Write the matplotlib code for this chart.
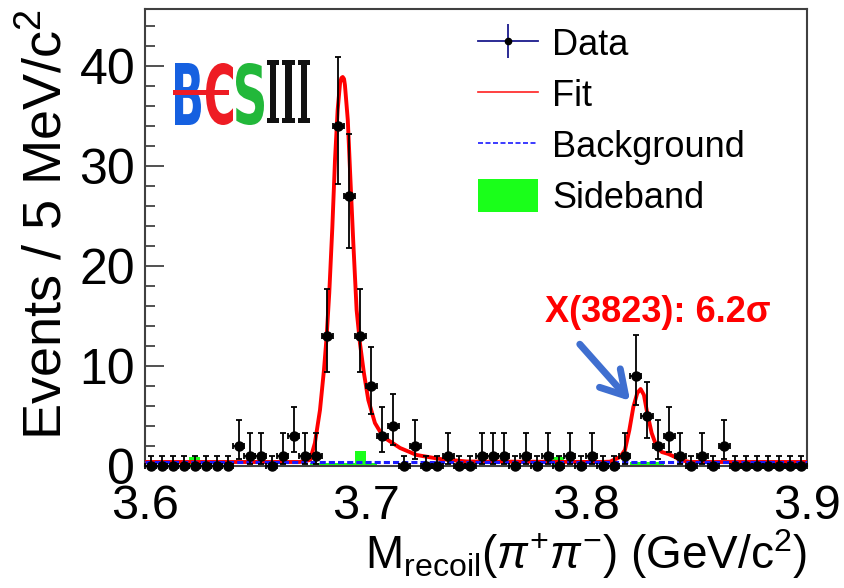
import numpy as np
import matplotlib
matplotlib.use("Agg")
import matplotlib.pyplot as plt
from matplotlib.lines import Line2D
from matplotlib.patches import Patch, PathPatch, Rectangle
from matplotlib.textpath import TextPath
from matplotlib.font_manager import FontProperties
from matplotlib.transforms import Affine2D

plt.rcParams['font.family'] = ['Liberation Sans', 'DejaVu Sans']
plt.rcParams['mathtext.fontset'] = 'custom'
plt.rcParams['mathtext.rm'] = 'Liberation Sans'
plt.rcParams['mathtext.it'] = 'Liberation Sans:italic'

# 5 MeV bins from 3.60 to 3.90 GeV
bin_edges = np.arange(3.600, 3.9001, 0.005)
bin_centers = 0.5 * (bin_edges[:-1] + bin_edges[1:])

counts = [0, 0, 0, 0, 0, 0, 0, 0, 2, 1,
          1, 0, 1, 3, 1, 1, 13, 34, 27, 13,
          8, 3, 4, 0, 2, 0, 0, 1, 0, 0,
          1, 1, 1, 0, 1, 0, 1, 0, 1, 0,
          1, 0, 0, 1, 9, 5, 2, 3, 1, 0,
          1, 0, 2, 0, 0, 0, 0, 0, 0, 0]

# asymmetric (Poisson) errors, as drawn: count -> (low, high)
poisson_err = {0: (0.0, 1.0), 1: (0.83, 2.3), 2: (1.29, 2.64), 3: (1.63, 2.92),
               4: (1.91, 3.16), 5: (2.16, 3.38), 8: (2.77, 3.94), 9: (2.94, 4.11),
               13: (3.56, 4.67), 27: (5.16, 6.25), 34: (5.80, 6.90)}

sideband = [0, 0, 0, 0, 0.9, 0, 0, 0, 0, 0,
            0, 0, 0, 0, 0, 0.3, 0.3, 0.3, 0.3, 1.5,
            0.3, 0, 0, 0, 0, 0, 0, 0, 0, 0,
            0, 0, 0, 0, 0, 0, 0, 0.9, 0, 0,
            0, 0, 0, 0, 0.4, 0.4, 0.4, 0, 0, 0,
            0, 0, 0, 0, 0, 0, 0, 0, 0, 0]

# fit curve
fit_x = [3.6000, 3.6700, 3.6748, 3.6770, 3.6793, 3.6811, 3.6823, 3.6835, 3.6849,
         3.6861, 3.6873, 3.6884, 3.6890, 3.6896, 3.6902, 3.6906, 3.6919, 3.6929,
         3.6944, 3.6959, 3.6974, 3.6992, 3.7012, 3.7042, 3.7080, 3.7156, 3.7231,
         3.7337, 3.7458, 3.8060, 3.8107, 3.8153, 3.8175, 3.8195, 3.8213, 3.8231,
         3.8246, 3.8261, 3.8276, 3.8296, 3.8319, 3.8342, 3.8372, 3.8402, 3.8424,
         3.8470, 3.9000]
fit_y = [0.4, 0.4, 0.6, 2.3, 5.6, 9.6, 12.9, 17.3, 23.9,
         30.6, 35.6, 38.3, 38.8, 38.9, 38.7, 38.1, 34.6, 29.6,
         22.3, 15.6, 12.3, 9.3, 6.6, 4.3, 2.9, 1.8, 1.1,
         0.7, 0.45, 0.4, 0.43, 0.9, 1.6, 3.6, 5.9, 7.3,
         7.7, 7.1, 5.3, 3.3, 1.9, 1.4, 1.2, 0.9, 0.6,
         0.4, 0.4]

bkg_x = [3.600, 3.900]
bkg_y = [0.4, 0.4]

W, H = 844, 588
fig = plt.figure(figsize=(W / 100, H / 100), dpi=100)
ax = fig.add_axes([145 / W, 1 - 466 / H, 662 / W, 457 / H])

# sideband histogram
ax.bar(bin_centers, sideband, width=0.005, color='#1aff1a', lw=0, zorder=1)

# fit and background
ax.plot(fit_x, fit_y, color='#ff0000', lw=2.8, zorder=3)
ax.plot(bkg_x, bkg_y, color='#1a1aff', lw=2.2, dashes=(2, 1), zorder=4)

# data
err_lo = [poisson_err[c][0] for c in counts]
err_hi = [poisson_err[c][1] for c in counts]
ax.errorbar(bin_centers, counts, yerr=[err_lo, err_hi], xerr=0.0025,
            fmt='o', color='black', ms=6.5, elinewidth=1.3, capsize=2.5,
            capthick=1.3, zorder=5, clip_on=False)

ax.set_xlim(3.6, 3.9)
ax.set_ylim(0, 45.7)
ax.set_xticks([3.6, 3.7, 3.8, 3.9])
ax.set_xticklabels(['3.6', '3.7', '3.8', '3.9'])
ax.set_yticks([0, 10, 20, 30, 40])
ax.set_yticks(np.arange(0, 45, 2), minor=True)
ax.tick_params(axis='x', length=0, labelsize=35, pad=13)
ax.tick_params(axis='y', which='major', direction='in', length=13.5, width=1.2,
               labelsize=36, pad=7, color='#333333')
ax.tick_params(axis='y', which='minor', direction='in', length=7, width=1.2,
               color='#333333')
for s in ax.spines.values():
    s.set_color('#404040')
    s.set_linewidth(1.5)

ax.set_xlabel(r'M$_{\rm recoil}$($\pi^{+}\pi^{-}$) (GeV/c$^{2}$)', fontsize=33,
              loc='right')
ax.xaxis.set_label_coords(1.0, -0.134)
ax.set_ylabel(r'Events / 5 MeV/c$^{2}$', fontsize=39, loc='top')
ax.yaxis.set_label_coords(-0.11, 1.0)

# legend
data_h = (Line2D([], [], color='#1a1a8c', lw=1.3),
          Line2D([], [], ls='none', marker='|', ms=24, mew=1.3, mec='#1a1a8c'),
          Line2D([], [], ls='none', marker='o', ms=4.5, color='black'))
handles = [data_h,
           Line2D([], [], color='#ff2020', lw=1.2),
           Line2D([], [], color='#1a1aff', lw=1.2, dashes=(3, 1.5)),
           Patch(facecolor='#1aff1a', edgecolor='none')]
labels = ['Data', 'Fit', 'Background', 'Sideband']
ax.legend(handles, labels, loc='upper left', bbox_to_anchor=(0.503, 0.962),
          frameon=False, fontsize=26, handlelength=1.65, handletextpad=0.4,
          labelspacing=0.4, borderpad=0, borderaxespad=0, numpoints=1,
          handleheight=1.0)

# annotation
ax.text(0.604, 0.315, 'X(3823): 6.2σ', transform=ax.transAxes, color='#ff0000',
        fontsize=26, fontweight='bold', va='baseline', ha='left')
ax.annotate('', xy=(0.7356, 0.138), xytext=(0.654, 0.271),
            xycoords='axes fraction', textcoords='axes fraction',
            arrowprops=dict(arrowstyle='->,head_length=0.85,head_width=0.5',
                            color='#3f6fd0', lw=5, mutation_scale=20))


# BESIII logo, glyphs squeezed into pixel boxes
def logo_glyph(s, box, color, family):
    tp = TextPath((0, 0), s, size=1, prop=FontProperties(family=family, weight='bold'))
    ext = tp.get_extents()
    x0, y0, x1, y1 = box
    sx = (x1 - x0) / ext.width / W
    sy = (y1 - y0) / ext.height / H
    tr = (Affine2D().translate(-ext.x0, -ext.y0).scale(sx, sy)
          .translate(x0 / W, 1 - y1 / H) + fig.transFigure)
    fig.patches.append(PathPatch(tp, transform=tr, color=color, lw=0))


logo_glyph('B', (175, 63, 201, 125), '#1560e0', 'DejaVu Sans')
logo_glyph('C', (206, 63, 233, 125), '#ee1c24', 'DejaVu Sans')
logo_glyph('S', (236, 63, 264, 125), '#22b83a', 'DejaVu Sans')
logo_glyph('III', (267, 60, 310, 123), '#111111', 'DejaVu Serif')
fig.patches.append(Rectangle((173 / W, 1 - 95 / H), 56 / W, 5 / H,
                             transform=fig.transFigure, color='#ee1c24', lw=0))

fig.savefig('out.png', dpi=100)
